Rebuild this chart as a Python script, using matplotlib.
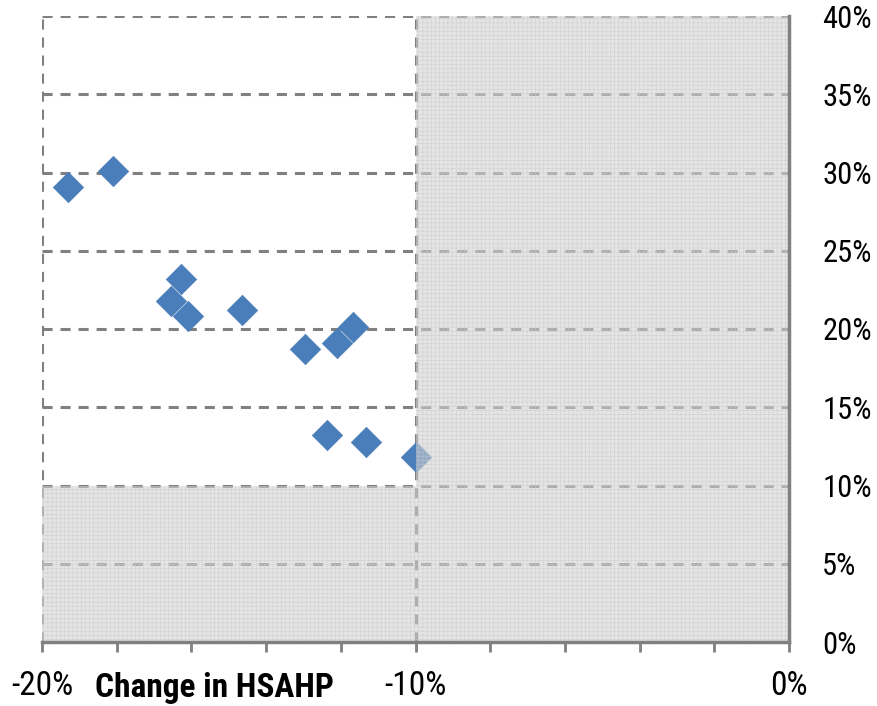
import matplotlib
matplotlib.use("Agg")
import matplotlib.pyplot as plt
import matplotlib.patches as patches
import matplotlib.ticker as mticker

# change in HSAHP (%) vs value on right axis (%)
hsahp_change = [-19.30, -18.10, -16.28, -16.55, -16.09, -14.65,
                -12.96, -12.10, -11.67, -12.37, -11.33, -9.99]
y_values = [29.1, 30.1, 23.2, 21.8, 20.8, 21.2,
            18.7, 19.1, 20.1, 13.2, 12.8, 11.8]

x_ticks = [-20, -18, -16, -14, -12, -10, -8, -6, -4, -2, 0]
x_labels = {-20: "-20%", -10: "-10%", 0: "0%"}
y_ticks = [0, 5, 10, 15, 20, 25, 30, 35, 40]

plt.rcParams["font.family"] = ["Roboto Condensed", "DejaVu Sans"]
plt.rcParams["hatch.linewidth"] = 0.5

fig = plt.figure(figsize=(8.77, 7.06), dpi=100)
ax = fig.add_axes([42 / 877, 64 / 706, 747 / 877, 626 / 706])

grid_col = "#808080"
dash = (0, (3.3, 2.6))

for y in y_ticks[1:]:
    ax.axhline(y, color=grid_col, lw=2.2, linestyle=dash, zorder=1)
for x in [-20, -10]:
    ax.axvline(x, color=grid_col, lw=2.2, linestyle=dash, zorder=1)

ax.scatter(hsahp_change, y_values, marker="D", s=240, color="#4a7ebb",
           edgecolor="#4a7ebb", linewidth=0.5, zorder=3)

# shaded zones laid over the data
shade = dict(facecolor=(0.82, 0.82, 0.82, 0.55), edgecolor=(0.78, 0.78, 0.78, 0.6),
             hatch="++++", linewidth=0, zorder=4)
ax.add_patch(patches.Rectangle((-10, 0), 10, 40, **shade))
ax.add_patch(patches.Rectangle((-20, 0), 10, 10, **shade))

ax.set_xlim(-20, 0)
ax.set_ylim(0, 40)

ax.set_xticks(x_ticks)
ax.set_xticklabels([x_labels.get(t, "") for t in x_ticks])
ax.set_yticks(y_ticks)
ax.yaxis.set_major_formatter(mticker.FuncFormatter(lambda v, p: f"{v:.0f}%"))
ax.yaxis.tick_right()

for s in ["top", "left"]:
    ax.spines[s].set_visible(False)
for s in ["bottom", "right"]:
    ax.spines[s].set_color("#808080")
    ax.spines[s].set_linewidth(2.5)
    ax.spines[s].set_zorder(5)

ax.tick_params(axis="x", direction="out", length=7, width=2, color="#808080",
               labelsize=24, pad=13)
ax.tick_params(axis="y", length=0, labelsize=22, pad=24)

fig.text(95 / 877, 18 / 706, "Change in HSAHP", fontsize=24, fontweight="bold",
         ha="left", va="center")

fig.savefig("out.png", dpi=100, facecolor="white")
